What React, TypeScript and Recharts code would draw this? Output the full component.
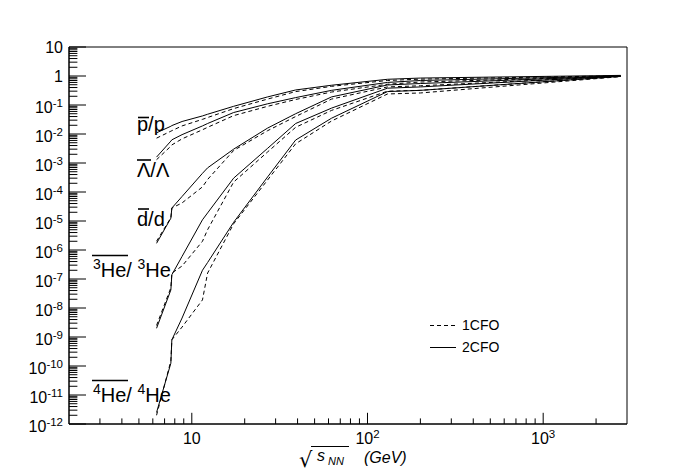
import React from 'react';
import { LineChart, Line, XAxis, YAxis, ReferenceArea } from 'recharts';

// collision energies sqrt(s_NN) in GeV
const energies = [6.3, 7.6, 7.7, 8.8, 11.5, 12.3, 17.3, 27, 39, 62.4, 130, 200, 2760];

// anti-particle / particle ratios, 2CFO (solid) and 1CFO (dashed)
const pbarp2CFO = [0.011, 0.0185, 0.0195, 0.027, 0.042, 0.048, 0.09, 0.19, 0.33, 0.48, 0.77, 0.85, 1.05];
const pbarp1CFO = [0.0072, 0.0125, 0.013, 0.019, 0.032, 0.037, 0.075, 0.16, 0.29, 0.44, 0.7, 0.78, 1.02];
const lambda2CFO = [0.0016, 0.0057, 0.0063, 0.0095, 0.019, 0.023, 0.055, 0.11, 0.18, 0.32, 0.6, 0.7, 1.0];
const lambda1CFO = [0.0013, 0.0038, 0.0042, 0.0068, 0.014, 0.017, 0.043, 0.09, 0.155, 0.28, 0.52, 0.62, 0.98];
const dbard2CFO = [1.7e-6, 1.25e-5, 2.8e-5, 7e-5, 4.4e-4, 6.8e-4, 3e-3, 0.016, 0.05, 0.19, 0.49, 0.55, 1.0];
const dbard1CFO = [2e-6, 1.3e-5, 2.8e-5, 4.2e-5, 1.5e-4, 2.7e-4, 2.7e-3, 0.013, 0.04, 0.16, 0.42, 0.46, 0.98];
const he3bar2CFO = [2e-9, 4.2e-8, 1.4e-7, 6e-7, 1.1e-5, 1.9e-5, 3e-4, 3.2e-3, 0.023, 0.078, 0.38, 0.42, 1.0];
const he3bar1CFO = [2.5e-9, 5e-8, 1.6e-7, 2.8e-7, 2e-6, 5e-6, 2.2e-4, 2.4e-3, 0.017, 0.065, 0.3, 0.32, 0.97];
const he4bar2CFO = [2.5e-12, 1.25e-10, 8e-10, 4.5e-9, 2e-7, 3.7e-7, 9e-6, 3.3e-4, 6.2e-3, 0.035, 0.29, 0.32, 0.97];
const he4bar1CFO = [2e-12, 1.5e-10, 8e-10, 2.2e-9, 1.9e-8, 1.6e-7, 8e-6, 2.6e-4, 4.6e-3, 0.028, 0.24, 0.26, 0.95];

// axis ticks
const xMajorTicks = [10, 100, 1000];
const xTickLabels: [string, string][] = [['10', ''], ['10', '2'], ['10', '3']];
const xMinorTicks = [3, 4, 5, 6, 7, 8, 9, 20, 30, 40, 50, 60, 70, 80, 90, 200, 300, 400, 500, 600, 700, 800, 900, 2000];

const yMajorTicks = [1e-12, 1e-11, 1e-10, 1e-9, 1e-8, 1e-7, 1e-6, 1e-5, 1e-4, 1e-3, 1e-2, 1e-1, 1, 10];
const yTickLabels: [string, string][] = [
  ['10', '-12'], ['10', '-11'], ['10', '-10'], ['10', '-9'], ['10', '-8'], ['10', '-7'], ['10', '-6'],
  ['10', '-5'], ['10', '-4'], ['10', '-3'], ['10', '-2'], ['10', '-1'], ['1', ''], ['10', ''],
];
const yMinorMultipliers = [2, 3, 4, 5, 6, 7, 8, 9];

const yMinorTicks: number[] = [];
yMajorTicks.slice(0, -1).forEach((d) => yMinorMultipliers.forEach((m) => yMinorTicks.push(m * d)));

const data = energies.map((e, i) => ({
  e,
  pbarp2: pbarp2CFO[i],
  pbarp1: pbarp1CFO[i],
  lam2: lambda2CFO[i],
  lam1: lambda1CFO[i],
  d2: dbard2CFO[i],
  d1: dbard1CFO[i],
  he32: he3bar2CFO[i],
  he31: he3bar1CFO[i],
  he42: he4bar2CFO[i],
  he41: he4bar1CFO[i],
}));

const FONT = '"Liberation Sans", Arial, Helvetica, sans-serif';
const close = (a: number, b: number) => Math.abs(a - b) <= Math.abs(b) * 1e-6;

function YTick(props: any) {
  const { x, y, payload } = props;
  const v = payload.value;
  const idx = yMajorTicks.findIndex((t) => close(v, t));
  if (idx < 0) {
    return <line x1={x} x2={x + 8.4} y1={y} y2={y} stroke="#000" strokeWidth={1} />;
  }
  const [base, exp] = yTickLabels[idx];
  return (
    <g>
      <line x1={x} x2={x + 17} y1={y} y2={y} stroke="#000" strokeWidth={1} />
      <text x={x - 6} y={exp ? y + 8 : y + 5.5} textAnchor="end" fontFamily={FONT} fontSize={16} fill="#000">
        {base}
        {exp ? (
          <tspan dy={-6} fontSize={11.5}>
            {exp}
          </tspan>
        ) : null}
      </text>
    </g>
  );
}

function XTick(props: any) {
  const { x, y, payload } = props;
  const v = payload.value;
  const idx = xMajorTicks.findIndex((t) => close(v, t));
  if (idx < 0) {
    return <line x1={x} x2={x} y1={y} y2={y - 5.6} stroke="#000" strokeWidth={1} />;
  }
  const [base, exp] = xTickLabels[idx];
  return (
    <g>
      <line x1={x} x2={x} y1={y} y2={y - 11.2} stroke="#000" strokeWidth={1} />
      <text x={x} y={y + 20} textAnchor="middle" fontFamily={FONT} fontSize={16} fill="#000">
        {base}
        {exp ? (
          <tspan dy={-6} fontSize={11.5}>
            {exp}
          </tspan>
        ) : null}
      </text>
    </g>
  );
}

const solid = { stroke: '#000', strokeWidth: 1, dot: false, isAnimationActive: false, type: 'linear' as const };
const dashed = { ...solid, strokeDasharray: '4 3' };

function Label({ x, y, bar, barX1, barX2, barY, children }: any) {
  return null;
}

export default function App() {
  const xTicks = [...xMinorTicks, ...xMajorTicks].sort((a, b) => a - b);
  const yTicks = [...yMinorTicks, ...yMajorTicks].sort((a, b) => a - b);
  return (
    <div style={{ position: 'absolute', left: 0, top: 0, width: 696, height: 472, background: '#fff' }}>
      <LineChart width={696} height={472} data={data} margin={{ top: 47, right: 69, bottom: 18, left: 9 }}>
        <XAxis
          dataKey="e"
          type="number"
          scale="log"
          domain={[2, 3000]}
          allowDataOverflow
          ticks={xTicks}
          interval={0}
          tickSize={0}
          tickMargin={0}
          tickLine={false}
          tick={<XTick />}
          axisLine={{ stroke: '#000', strokeWidth: 1 }}
          height={30}
        />
        <YAxis
          type="number"
          scale="log"
          domain={[1e-12, 10]}
          allowDataOverflow
          ticks={yTicks}
          interval={0}
          tickSize={0}
          tickMargin={0}
          tickLine={false}
          tick={<YTick />}
          axisLine={{ stroke: '#000', strokeWidth: 1 }}
          width={60}
        />
        <ReferenceArea x1={2} x2={3000} y1={1e-12} y2={10} fill="none" stroke="#000" strokeWidth={1} ifOverflow="visible" />
        <Line dataKey="pbarp1" {...dashed} />
        <Line dataKey="pbarp2" {...solid} />
        <Line dataKey="lam1" {...dashed} />
        <Line dataKey="lam2" {...solid} />
        <Line dataKey="d1" {...dashed} />
        <Line dataKey="d2" {...solid} />
        <Line dataKey="he31" {...dashed} />
        <Line dataKey="he32" {...solid} />
        <Line dataKey="he41" {...dashed} />
        <Line dataKey="he42" {...solid} />
      </LineChart>
      <svg
        width={696}
        height={472}
        style={{ position: 'absolute', left: 0, top: 0, pointerEvents: 'none' }}
        fontFamily={FONT}
      >
        {/* species labels */}
        <text x={137} y={131} fontSize={20} fill="#000">p/p</text>
        <line x1={138} x2={149} y1={117.5} y2={117.5} stroke="#000" strokeWidth={1.6} />
        <text x={137} y={177} fontSize={20} fill="#000">Λ/Λ</text>
        <line x1={137} x2={151} y1={160} y2={160} stroke="#000" strokeWidth={1.6} />
        <text x={137} y={226} fontSize={20} fill="#000">d/d</text>
        <line x1={138} x2={149} y1={209} y2={209} stroke="#000" strokeWidth={1.6} />
        <text x={93} y={277} fontSize={20} fill="#000">
          <tspan fontSize={14} dy={-8}>3</tspan>
          <tspan dy={8}>He/ </tspan>
          <tspan fontSize={14} dy={-8}>3</tspan>
          <tspan dy={8}>He</tspan>
        </text>
        <line x1={92} x2={128} y1={255.5} y2={255.5} stroke="#000" strokeWidth={1.6} />
        <text x={93} y={402} fontSize={20} fill="#000">
          <tspan fontSize={14} dy={-8}>4</tspan>
          <tspan dy={8}>He/ </tspan>
          <tspan fontSize={14} dy={-8}>4</tspan>
          <tspan dy={8}>He</tspan>
        </text>
        <line x1={92} x2={128} y1={380.5} y2={380.5} stroke="#000" strokeWidth={1.6} />

        {/* legend */}
        <line x1={430} x2={456} y1={325.5} y2={325.5} stroke="#000" strokeWidth={1} strokeDasharray="4 3" />
        <text x={462} y={330} fontSize={14} fill="#000">1CFO</text>
        <line x1={430} x2={456} y1={347.5} y2={347.5} stroke="#000" strokeWidth={1} />
        <text x={462} y={352} fontSize={14} fill="#000">2CFO</text>

        {/* x axis title */}
        <text x={299} y={467} fontSize={21} fontFamily='"DejaVu Sans", sans-serif' fill="#000">√</text>
        <line x1={311} x2={349} y1={446.5} y2={446.5} stroke="#000" strokeWidth={1} />
        <text x={317} y={461} fontSize={16} fontStyle="italic" fill="#000">s</text>
        <text x={328} y={465} fontSize={11} fontStyle="italic" fill="#000">NN</text>
        <text x={364} y={463} fontSize={16} fontStyle="italic" fill="#000">(GeV)</text>
      </svg>
    </div>
  );
}
